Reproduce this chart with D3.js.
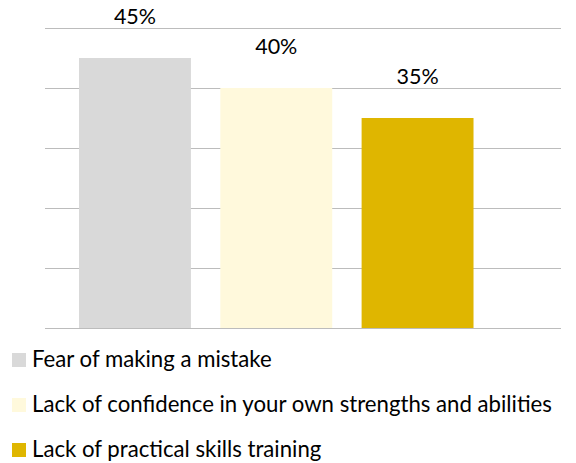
<!DOCTYPE html>
<html>
<head>
<meta charset="utf-8">
<script src="https://cdn.jsdelivr.net/npm/d3@7"></script>
<style>
  html, body { margin: 0; padding: 0; background: #fff; }
  svg { display: block; font-family: Lato, "Open Sans", sans-serif; }
</style>
</head>
<body>
<svg id="chart"></svg>
<script>
// data
const categories = ['Fear of making a mistake', 'Lack of confidence in your own strengths and abilities', 'Lack of practical skills training'];
const values = [45, 40, 35];
const colors = ['#d9d9d9', '#fff9dc', '#dfb600'];
const gridTicks = [0, 10, 20, 30, 40, 50];

// set up constants
const width = 576;
const height = 463;
const plot = { left: 45, right: 561, top: 28, bottom: 328 };

const svg = d3.select('#chart')
  .attr('width', width)
  .attr('height', height);

// scales
const xScale = d3.scaleBand()
  .domain(categories)
  .range([plot.left, plot.right])
  .paddingInner(0.208)
  .paddingOuter(0.43)
  .align(0.28);

const yScale = d3.scaleLinear()
  .domain([0, 50])
  .range([plot.bottom, plot.top]);

// gridlines
svg.append('g')
  .selectAll('line')
  .data(gridTicks)
  .enter()
  .append('line')
  .attr('x1', plot.left)
  .attr('x2', plot.right)
  .attr('y1', d => Math.round(yScale(d)) + 0.5)
  .attr('y2', d => Math.round(yScale(d)) + 0.5)
  .attr('stroke', '#bcbcbc')
  .attr('stroke-width', 1);

// bars
svg.append('g')
  .selectAll('rect')
  .data(values)
  .enter()
  .append('rect')
  .attr('x', (d, i) => xScale(categories[i]))
  .attr('y', d => yScale(d))
  .attr('width', xScale.bandwidth())
  .attr('height', d => yScale(0) - yScale(d))
  .attr('fill', (d, i) => colors[i]);

// value labels
svg.append('g')
  .selectAll('text')
  .data(values)
  .enter()
  .append('text')
  .attr('x', (d, i) => xScale(categories[i]) + xScale.bandwidth() / 2)
  .attr('y', d => yScale(d) - 34)
  .attr('text-anchor', 'middle')
  .attr('font-size', 21.5)
  .attr('fill', '#000')
  .text(d => d + '%');

// legend
const legend = svg.append('g')
  .selectAll('g')
  .data(categories)
  .enter()
  .append('g')
  .attr('transform', (d, i) => `translate(12, ${367 + i * 45})`);

legend.append('rect')
  .attr('x', 0)
  .attr('y', -14)
  .attr('width', 14)
  .attr('height', 14)
  .attr('fill', (d, i) => colors[i]);

legend.append('text')
  .attr('x', 20)
  .attr('y', 0)
  .attr('font-size', 22.2)
  .attr('fill', '#000')
  .text(d => d);
</script>
</body>
</html>
